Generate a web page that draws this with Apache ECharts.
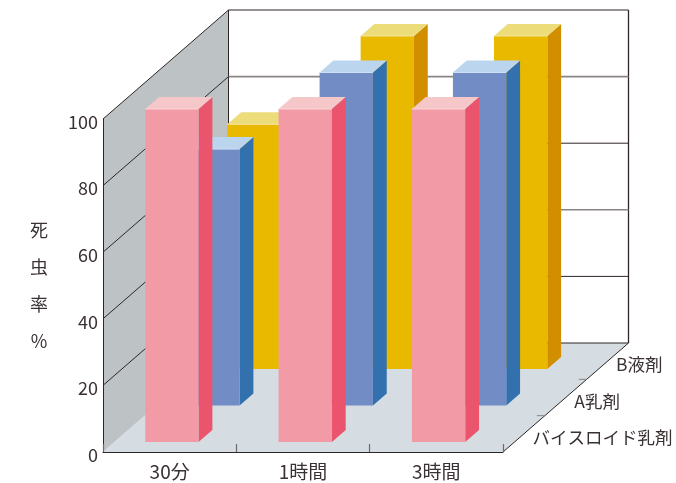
<!DOCTYPE html>
<html><head><meta charset="utf-8">
<style>html,body{margin:0;padding:0;background:#fff}#c{width:676px;height:483px}</style>
<script src="https://cdn.jsdelivr.net/npm/echarts@6/dist/echarts.min.js"></script>
</head><body><div id="c"></div>
<script>
var categories = ['30分', '1時間', '3時間'];
var depthNames = ['バイスロイド乳剤', 'A乳剤', 'B液剤'];
var tickValues = [0, 20, 40, 60, 80, 100];
var pesticideBiso = [100, 100, 100];
var pesticideA = [77, 100, 100];
var pesticideB = [73.5, 100, 100];

var FONT = '"Noto Sans CJK JP","Noto Sans",sans-serif';
var INK = '#3a3232', LINE = '#2e2526', GREY = '#8a8583';
var DX = 125.5, DY = -109;          // depth vector of the box
var palette = [
  {front: '#f29ba7', side: '#ea546c', top: '#f6c7c8', edge: '#f8d5d6'},
  {front: '#728cc5', side: '#3271ae', top: '#bcd5ef', edge: '#cfe0f2'},
  {front: '#e9b900', side: '#d18f00', top: '#eddc7a', edge: '#f3e7a6'}
];

function boxEdges(api, v) {
  var band = api.size([1, 0])[0];
  var a = api.coord([0, v]), b = api.coord([2, v]);
  return {l: a[0] - band / 2, r: b[0] + band / 2, y: a[1]};
}

function renderWalls(params, api) {
  var z = boxEdges(api, 0), t = boxEdges(api, 100);
  var wall = {type: 'polygon', shape: {points: [[z.l, z.y], [z.l + DX, z.y + DY], [t.l + DX, t.y + DY], [t.l, t.y]]}, style: {fill: '#bdc2c4'}};
  var floor = {type: 'polygon', shape: {points: [[z.l, z.y], [z.r, z.y], [z.r + DX, z.y + DY], [z.l + DX, z.y + DY]]}, style: {fill: '#d5dde3'}};
  var seg = function (p, q, c, w) {
    return {type: 'line', shape: {x1: p[0], y1: p[1], x2: q[0], y2: q[1]}, style: {stroke: c, lineWidth: w}};
  };
  return {type: 'group', children: [
    wall, floor,
    seg([t.l + DX, t.y + DY], [z.l + DX, z.y + DY], LINE, 1),
    seg([t.r + DX, t.y + DY], [z.r + DX, z.y + DY], LINE, 1.3),
    seg([z.l + DX, z.y + DY], [z.r + DX, z.y + DY], LINE, 1),
    seg([z.r, z.y], [z.r + DX, z.y + DY], LINE, 1)
  ]};
}

function renderGridline(params, api) {
  var v = api.value(1), e = boxEdges(api, v);
  var grey = v === 40 || v === 80;
  var back = {type: 'line', shape: {x1: e.l + DX, y1: e.y + DY, x2: e.r + DX, y2: e.y + DY},
    style: {stroke: grey ? GREY : LINE, lineWidth: grey ? 1.6 : 1}};
  var diag = {type: 'line', shape: {x1: e.l, y1: e.y, x2: e.l + DX, y2: e.y + DY}, style: {stroke: LINE, lineWidth: 1}};
  return {type: 'group', children: [back, diag]};
}

function renderDepthLabel(params, api) {
  var row = api.value(1), z = boxEdges(api, 0);
  var f = (row + 0.5) / 3;
  var children = [{type: 'text', style: {
    x: z.r + f * DX + 8.5, y: z.y + f * DY + 3.5, text: depthNames[row], fill: INK,
    font: '17.5px ' + FONT, align: 'left', verticalAlign: 'middle'}}];
  if (row > 0) {
    var g = row / 3;
    children.push({type: 'line', shape: {x1: z.r + g * DX, y1: z.y + g * DY, x2: z.r + g * DX - 8, y2: z.y + g * DY},
      style: {stroke: GREY, lineWidth: 1}});
  }
  return {type: 'group', children: children};
}

function barRenderer(row) {
  return function (params, api) {
    var c = api.value(0), v = api.value(1);
    var band = api.size([1, 0])[0];
    var base = api.coord([c, 0]), top = api.coord([c, v]);
    var ox = (0.09 + row * 0.327) * DX, oy = (0.0917 + row * 0.335) * DY;
    var x0 = base[0] - 0.268 * band + ox, x1 = x0 + 0.4 * band;
    var y0 = base[1] + oy, y1 = top[1] + oy;
    var dx = 0.11 * DX, dy = 0.11 * DY, col = palette[row];
    return {type: 'group', children: [
      {type: 'polygon', shape: {points: [[x1, y1], [x1 + dx, y1 + dy], [x1 + dx, y0 + dy], [x1, y0]]}, style: {fill: col.side}},
      {type: 'polygon', shape: {points: [[x0, y1], [x1, y1], [x1 + dx, y1 + dy], [x0 + dx, y1 + dy]]}, style: {fill: col.top}},
      {type: 'rect', shape: {x: x0, y: y1, width: x1 - x0, height: y0 - y1}, style: {fill: col.front}},
      {type: 'line', shape: {x1: x0, y1: y1, x2: x1, y2: y1}, style: {stroke: col.edge, lineWidth: 1}}
    ]};
  };
}

function pairs(arr) { return arr.map(function (v, i) { return [i, v]; }); }

var chart = echarts.init(document.getElementById('c'), null, {renderer: 'canvas'});
chart.setOption({
  animation: false,
  backgroundColor: '#fff',
  grid: {left: 103, right: 173, top: 119, bottom: 31, containLabel: false},
  xAxis: {
    type: 'category', data: categories, z: 5,
    axisLine: {show: true, lineStyle: {color: LINE, width: 1}},
    axisTick: {show: true, inside: true, length: 8, alignWithLabel: false, lineStyle: {color: '#6e6a6a', width: 1.2}},
    axisLabel: {color: INK, fontFamily: FONT, fontSize: 19, margin: 10},
    splitLine: {show: false}
  },
  yAxis: {
    type: 'value', min: 0, max: 100, interval: 20, z: 5,
    name: '死\n虫\n率\n%', nameLocation: 'middle', nameRotate: 0, nameGap: 64,
    nameTextStyle: {color: INK, fontFamily: FONT, fontSize: 18, lineHeight: 37, align: 'center', verticalAlign: 'middle'},
    axisLine: {show: true, lineStyle: {color: LINE, width: 1}},
    axisTick: {show: false},
    axisLabel: {color: INK, fontFamily: FONT, fontSize: 18, margin: 5, verticalAlign: 'top', lineHeight: 6},
    splitLine: {show: false}
  },
  series: [
    {type: 'custom', name: 'walls', z: 1, silent: true, renderItem: renderWalls, data: [[0, 0]], encode: {x: 0, y: 1}},
    {type: 'custom', name: 'gridlines', z: 2, silent: true, renderItem: renderGridline,
      data: tickValues.slice(1).map(function (v) { return [0, v]; }), encode: {x: 0, y: 1}},
    {type: 'custom', name: 'depth', z: 2, silent: true, renderItem: renderDepthLabel,
      data: depthNames.map(function (n, i) { return [0, i]; }), encode: {x: 0, y: 1}},
    {type: 'custom', name: depthNames[2], z: 3, silent: true, renderItem: barRenderer(2), data: pairs(pesticideB), encode: {x: 0, y: 1}},
    {type: 'custom', name: depthNames[1], z: 4, silent: true, renderItem: barRenderer(1), data: pairs(pesticideA), encode: {x: 0, y: 1}},
    {type: 'custom', name: depthNames[0], z: 6, silent: true, renderItem: barRenderer(0), data: pairs(pesticideBiso), encode: {x: 0, y: 1}}
  ]
});
</script></body></html>
